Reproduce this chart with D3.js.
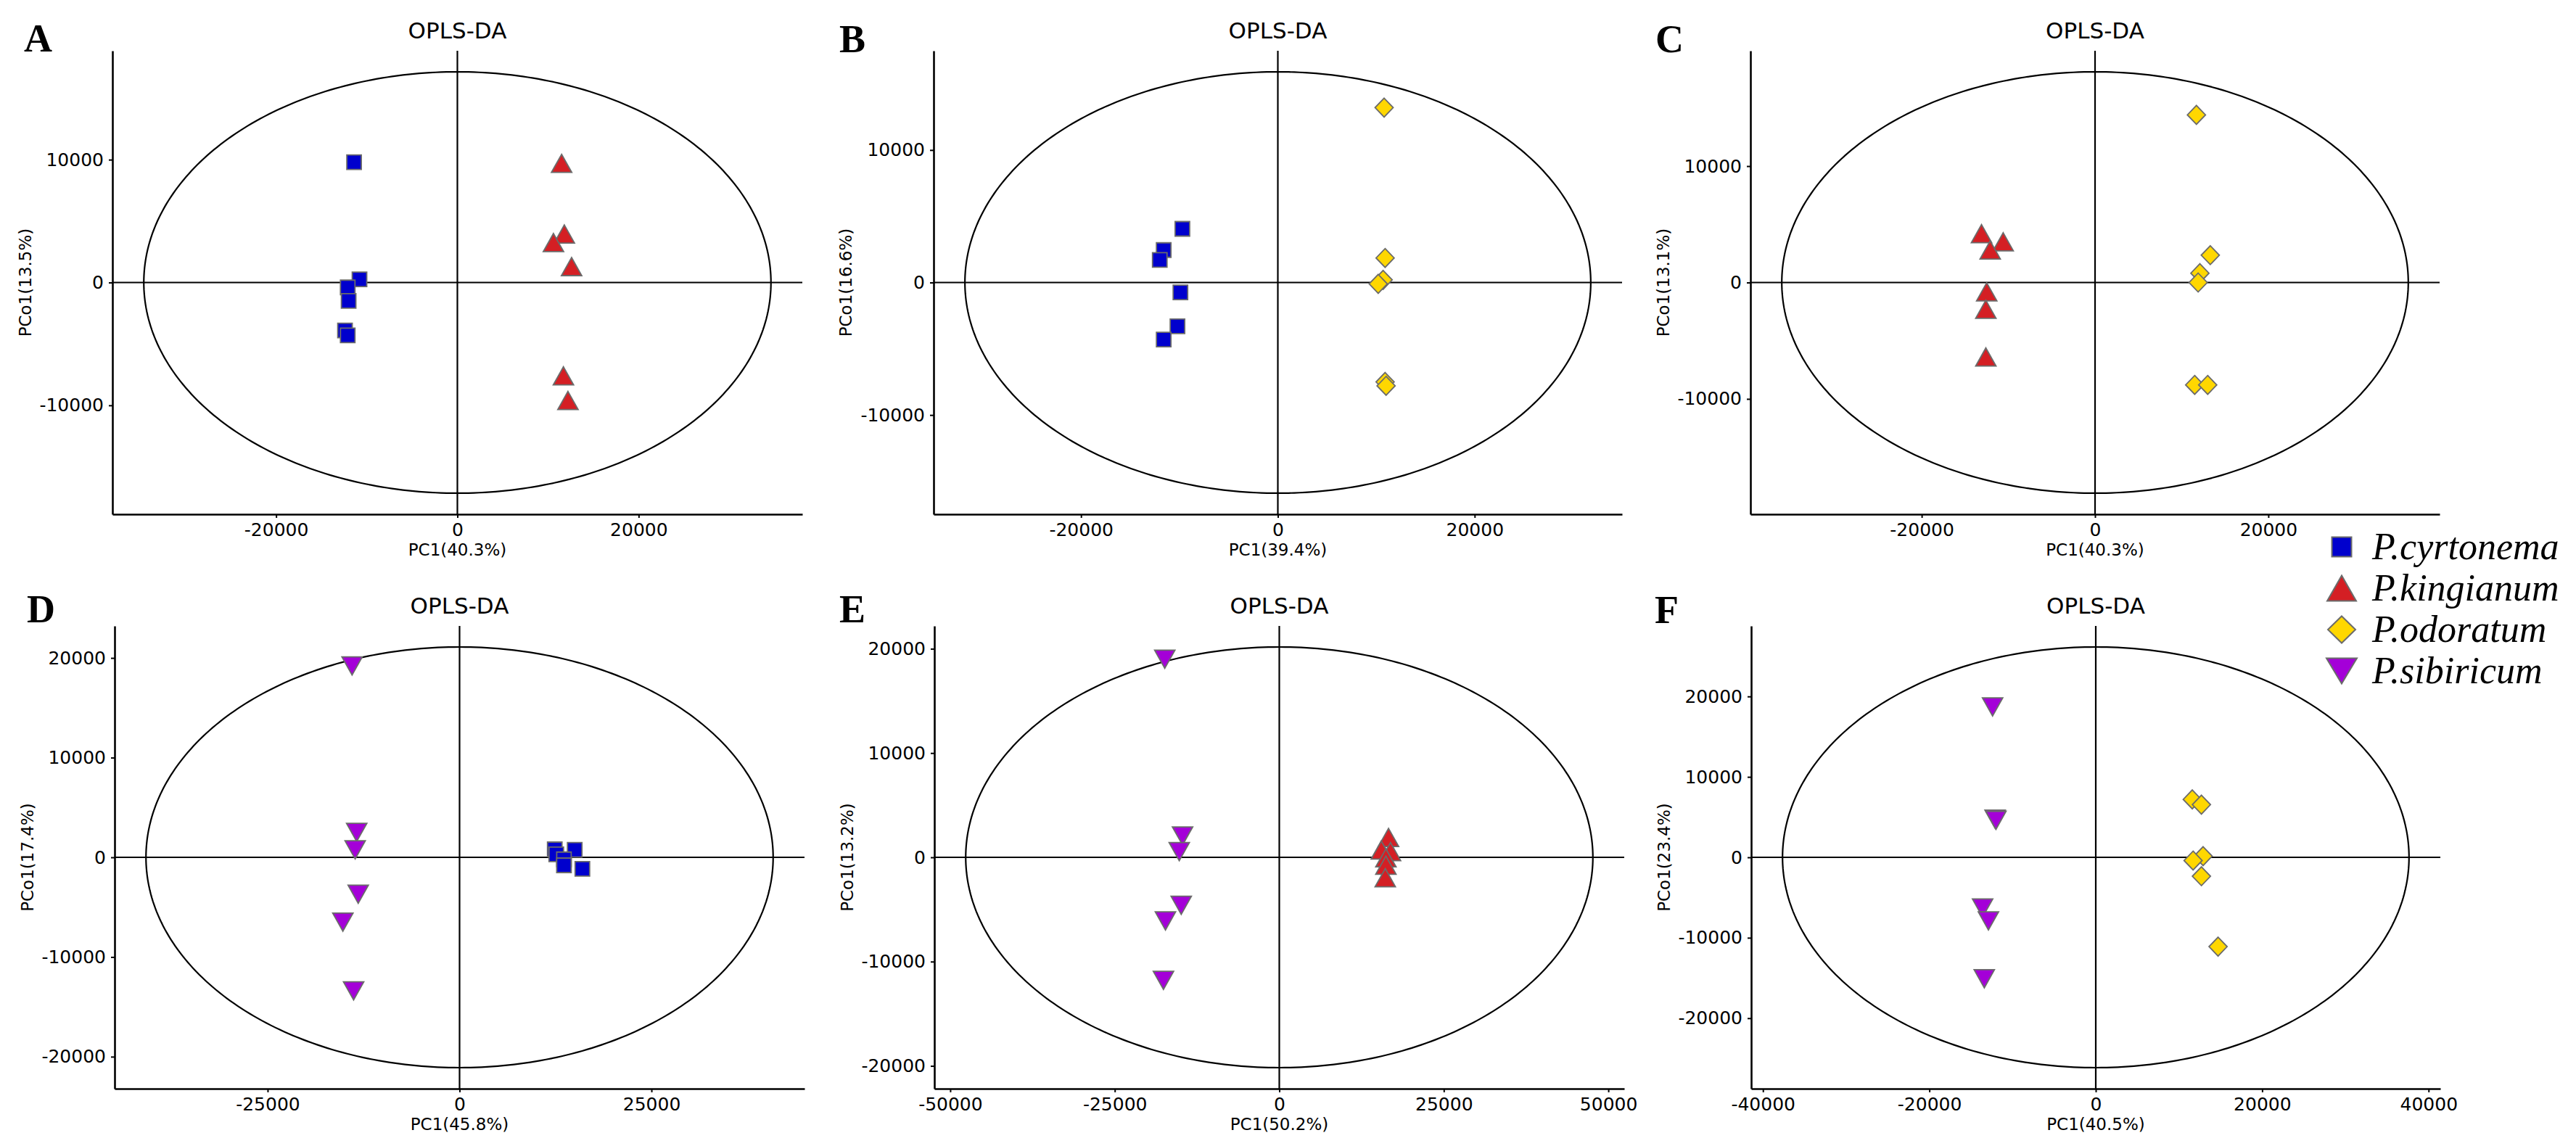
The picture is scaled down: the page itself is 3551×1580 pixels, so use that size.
<!DOCTYPE html>
<html>
<head>
<meta charset="utf-8">
<script src="https://cdn.jsdelivr.net/npm/d3@7"></script>
<style>
  html, body { margin: 0; padding: 0; background: #ffffff; }
  svg { display: block; }
</style>
</head>
<body>
<svg id="chart" width="3551" height="1580"></svg>
<script>
// ---------------- DATA ----------------
const speciesNames = ["P.cyrtonema", "P.kingianum", "P.odoratum", "P.sibiricum"];
const panelLetters = ["A", "B", "C", "D", "E", "F"];
const panelTitles = ["OPLS-DA", "OPLS-DA", "OPLS-DA", "OPLS-DA", "OPLS-DA", "OPLS-DA"];
const pc1Labels = ["PC1(40.3%)", "PC1(39.4%)", "PC1(40.3%)", "PC1(45.8%)", "PC1(50.2%)", "PC1(40.5%)"];
const pco1Labels = ["PCo1(13.5%)", "PCo1(16.6%)", "PCo1(13.1%)", "PCo1(17.4%)", "PCo1(13.2%)", "PCo1(23.4%)"];

// ellipse semi-axes (PC1, PCo1) per panel
const ellipseSemiX = [34600, 31800, 36150, 40850, 47650, 37650];
const ellipseSemiY = [17150, 15900, 18100, 21100, 20170, 26150];

const xTickValues = [
  [-20000, 0, 20000],
  [-20000, 0, 20000],
  [-20000, 0, 20000],
  [-25000, 0, 25000],
  [-50000, -25000, 0, 25000, 50000],
  [-40000, -20000, 0, 20000, 40000]
];
const yTickValues = [
  [-10000, 0, 10000],
  [-10000, 0, 10000],
  [-10000, 0, 10000],
  [-20000, -10000, 0, 10000, 20000],
  [-20000, -10000, 0, 10000, 20000],
  [-20000, -10000, 0, 10000, 20000]
];

// scores [PC1, PCo1]
const A_cyrtonema = [[-11400, 9800], [-10800, 260], [-12100, -400], [-12000, -1500], [-12400, -3900], [-12100, -4300]];
const A_kingianum = [[11500, 9700], [11800, 3950], [10600, 3250], [12600, 1300], [11700, -7600], [12200, -9600]];

const B_cyrtonema = [[-9700, 4050], [-11600, 2450], [-12000, 1700], [-9900, -750], [-10200, -3300], [-11600, -4300]];
const B_odoratum = [[10800, 13200], [10900, 1850], [10700, 200], [10200, -100], [10900, -7500], [11000, -7800]];

const C_kingianum = [[-13100, 4200], [-10600, 3500], [-12100, 2800], [-12500, -800], [-12600, -2300], [-12600, -6400]];
const C_odoratum = [[11700, 14400], [13300, 2350], [12100, 800], [11900, 0], [11500, -8800], [13000, -8800]];

const D_sibiricum = [[-14000, 19200], [-13400, 2500], [-13600, 750], [-13200, -3700], [-15200, -6500], [-13800, -13400]];
const D_cyrtonema = [[12400, 800], [12600, 300], [15000, 750], [13600, -200], [13600, -800], [16000, -1150]];

const E_sibiricum = [[-17400, 19000], [-14700, 2050], [-15200, 550], [-14900, -4600], [-17300, -6100], [-17600, -11800]];
const E_kingianum = [[16600, 1900], [15500, 700], [16900, 550], [16200, -50], [16200, -750], [16100, -1950]];

const F_sibiricum = [[-12400, 18700], [-12100, 4750], [-12000, 4600], [-13600, -6300], [-12900, -7900], [-13400, -15100]];
const F_odoratum = [[11600, 7200], [12700, 6550], [12900, 150], [11700, -400], [12700, -2350], [14700, -11100]];

const panelSeries = [
  [{sp: 0, pts: A_cyrtonema}, {sp: 1, pts: A_kingianum}],
  [{sp: 0, pts: B_cyrtonema}, {sp: 2, pts: B_odoratum}],
  [{sp: 1, pts: C_kingianum}, {sp: 2, pts: C_odoratum}],
  [{sp: 3, pts: D_sibiricum}, {sp: 0, pts: D_cyrtonema}],
  [{sp: 3, pts: E_sibiricum}, {sp: 1, pts: E_kingianum}],
  [{sp: 3, pts: F_sibiricum}, {sp: 2, pts: F_odoratum}]
];

// ---------------- STYLE / LAYOUT ----------------
const speciesFill = ["#0000CD", "#D41F24", "#FFD700", "#A400D8"];
const speciesShape = ["square", "up", "diamond", "down"];
const plotSize = {square: [20, 20], up: [28, 25], diamond: [25, 26], down: [28, 25]};
const legendSize = {square: [27, 27], up: [40, 35], diamond: [38, 37], down: [42, 35]};
const outline = "#6b6b6b";

const layout = [
  {x0: 155,  x1: 1106, y0: 70,  y1: 709,  lx: 33,   ly: 71,  tx: 35},
  {x0: 1287, x1: 2236, y0: 70,  y1: 709,  lx: 1157, ly: 72,  tx: 1166},
  {x0: 2413, x1: 3363, y0: 70,  y1: 709,  lx: 2282, ly: 72,  tx: 2293},
  {x0: 158,  x1: 1109, y0: 863, y1: 1501, lx: 37,   ly: 858, tx: 38},
  {x0: 1288, x1: 2239, y0: 863, y1: 1501, lx: 1157, ly: 858, tx: 1168},
  {x0: 2414, x1: 3364, y0: 863, y1: 1501, lx: 2281, ly: 859, tx: 2294}
];

function shapePath(type, w, h) {
  const a = w / 2, b = h / 2;
  switch (type) {
    case "square": return `M${-a},${-b}L${a},${-b}L${a},${b}L${-a},${b}Z`;
    case "up": return `M0,${-b}L${a},${b}L${-a},${b}Z`;
    case "diamond": return `M0,${-b}L${a},0L0,${b}L${-a},0Z`;
    case "down": return `M0,${b}L${a},${-b}L${-a},${-b}Z`;
  }
}

const svg = d3.select("#chart");
const FONT = "'DejaVu Sans', sans-serif";

panelLetters.forEach((letter, i) => {
  const L = layout[i];
  const ax = ellipseSemiX[i] * 1.1, ay = ellipseSemiY[i] * 1.1;
  const x = d3.scaleLinear().domain([-ax, ax]).range([L.x0, L.x1]);
  const y = d3.scaleLinear().domain([-ay, ay]).range([L.y1, L.y0]);
  const g = svg.append("g");

  // ellipse
  const angles = d3.range(0, 361, 1).map(d => d * Math.PI / 180);
  const ell = d3.line()
    .x(t => x(ellipseSemiX[i] * Math.cos(t)))
    .y(t => y(ellipseSemiY[i] * Math.sin(t)));
  g.append("path").attr("d", ell(angles))
    .attr("fill", "none").attr("stroke", "#000").attr("stroke-width", 2.2);

  // zero lines
  g.append("line").attr("x1", x(0)).attr("x2", x(0)).attr("y1", L.y0).attr("y2", L.y1)
    .attr("stroke", "#000").attr("stroke-width", 2.2);
  g.append("line").attr("x1", L.x0).attr("x2", L.x1).attr("y1", y(0)).attr("y2", y(0))
    .attr("stroke", "#000").attr("stroke-width", 2.2);

  // axes
  const xAxis = d3.axisBottom(x).tickValues(xTickValues[i]).tickFormat(d3.format("d"))
    .tickSize(5).tickPadding(7).tickSizeOuter(0);
  const yAxis = d3.axisLeft(y).tickValues(yTickValues[i]).tickFormat(d3.format("d"))
    .tickSize(5).tickPadding(7).tickSizeOuter(0);
  const gx = g.append("g").attr("transform", `translate(0,${L.y1})`).call(xAxis);
  const gy = g.append("g").attr("transform", `translate(${L.x0},0)`).call(yAxis);
  [gx, gy].forEach(ga => {
    ga.select(".domain").attr("stroke", "#000").attr("stroke-width", 2.6);
    ga.selectAll(".tick line").attr("stroke", "#000").attr("stroke-width", 2);
    ga.selectAll(".tick text").attr("fill", "#000").attr("font-family", FONT).attr("font-size", 25)
      .text(d => d3.format("d")(d).replace("−", "-"));
  });

  // points
  panelSeries[i].forEach(s => {
    const shp = speciesShape[s.sp];
    const sz = plotSize[shp];
    g.append("g").selectAll("path").data(s.pts).join("path")
      .attr("transform", d => `translate(${x(d[0])},${y(d[1])})`)
      .attr("d", shapePath(shp, sz[0], sz[1]))
      .attr("fill", speciesFill[s.sp]).attr("stroke", outline).attr("stroke-width", 1.8);
  });

  // title
  g.append("text").attr("x", (L.x0 + L.x1) / 2).attr("y", L.y0 - 17)
    .attr("text-anchor", "middle").attr("font-family", FONT).attr("font-size", 31)
    .attr("fill", "#000").text(panelTitles[i]);

  // x title
  g.append("text").attr("x", (L.x0 + L.x1) / 2).attr("y", L.y1 + 57)
    .attr("text-anchor", "middle").attr("font-family", FONT).attr("font-size", 23)
    .attr("fill", "#000").text(pc1Labels[i]);

  // y title
  g.append("text").attr("transform", `translate(${L.tx + 8},${(L.y0 + L.y1) / 2}) rotate(-90)`)
    .attr("text-anchor", "middle").attr("font-family", FONT).attr("font-size", 23)
    .attr("fill", "#000").text(pco1Labels[i]);

  // panel letter
  g.append("text").attr("x", L.lx).attr("y", L.ly)
    .attr("font-family", "'Liberation Serif', 'Times New Roman', serif").attr("font-weight", "bold")
    .attr("font-size", 54).attr("fill", "#000").text(letter);
});

// legend
const legend = svg.append("g").attr("transform", "translate(3228,754)");
speciesNames.forEach((name, k) => {
  const row = legend.append("g").attr("transform", `translate(0,${k * 57})`);
  const shp = speciesShape[k];
  const sz = legendSize[shp];
  row.append("path").attr("d", shapePath(shp, sz[0], sz[1]))
    .attr("fill", speciesFill[k]).attr("stroke", outline).attr("stroke-width", 2);
  row.append("text").attr("x", 42).attr("y", 17)
    .attr("font-family", "'Liberation Serif', 'Times New Roman', serif").attr("font-style", "italic")
    .attr("font-size", 52).attr("fill", "#000").text(name);
});
</script>
</body>
</html>
